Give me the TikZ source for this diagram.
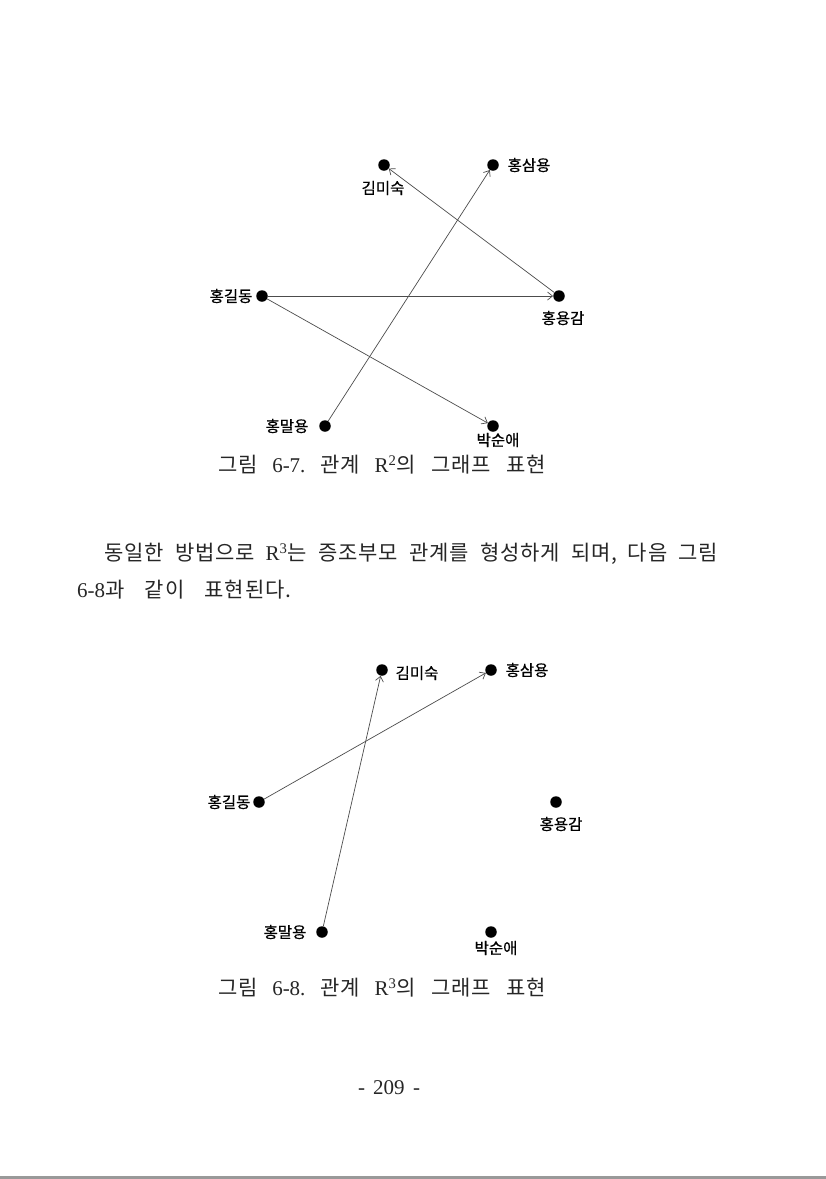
\documentclass[tikz,border=0pt]{standalone}
\usepackage{fontspec}
\setmainfont{Liberation Serif}
\newfontfamily\cjk[LetterSpace=4]{Noto Sans CJK KR}
\newfontfamily\cjkb[FakeBold=0.6]{Noto Sans CJK KR}
\usetikzlibrary{arrows.meta}
\frenchspacing
\begin{document}
\begin{tikzpicture}[x=1pt,y=-1pt,
  dot/.style={circle,fill=black,inner sep=0pt,minimum size=11.5pt},
  lab/.style={font=\cjkb\fontsize{15.5}{18}\selectfont,inner sep=0pt,text=black},
  rel/.style={draw=black!70,line width=0.7pt,-{Straight Barb[length=5pt,width=8pt]}},
  body/.style={font=\fontsize{21}{24}\selectfont\frenchspacing,inner sep=0pt,text=black!85}]
\useasboundingbox (0,0) rectangle (826,1179);
\fill[white] (0,0) rectangle (826,1179);
\fill[black!40] (0,1176) rectangle (826,1179);

% ---------- Figure 6-7 ----------
\node[dot] (a1) at (384,165) {};
\node[dot] (b1) at (493,165) {};
\node[dot] (c1) at (262,296) {};
\node[dot] (d1) at (559,296) {};
\node[dot] (e1) at (325,426) {};
\node[dot] (f1) at (493,426) {};
\node[lab] (la1) at (383,188) {김미숙};
\node[lab] (lb1) at (529,165) {홍삼용};
\node[lab] (lc1) at (231,296) {홍길동};
\node[lab] (ld1) at (563,318) {홍용감};
\node[lab] (le1) at (287,426) {홍말용};
\node[lab] (lf1) at (498,440) {박순애};
\draw[rel] (d1) -- (a1);
\draw[rel] (e1) -- (b1);
\draw[rel] (c1) -- (d1);
\draw[rel] (c1) -- (f1);

\node[body] (cap1) at (382,465) {\makebox[328pt][s]{{\cjk 그림} 6-7. {\cjk 관계} R\textsuperscript{2}{\cjk 의 그래프 표현}}};

\node[body,anchor=west] (par1) at (104,554) {\makebox[614pt][s]{{\cjk 동일한 방법으로} R\textsuperscript{3}{\cjk 는 증조부모 관계를 형성하게 되며,} {\cjk 다음 그림}}};
\node[body,anchor=west] (par2) at (77,590) {\makebox[214pt][s]{6-8{\cjk 과 같이 표현된다.}}};

% ---------- Figure 6-8 ----------
\node[dot] (a2) at (382,670) {};
\node[dot] (b2) at (491,670) {};
\node[dot] (c2) at (259,802) {};
\node[dot] (d2) at (556,802) {};
\node[dot] (e2) at (322,932) {};
\node[dot] (f2) at (491,932) {};
\node[lab] (la2) at (417,673) {김미숙};
\node[lab] (lb2) at (527,670) {홍삼용};
\node[lab] (lc2) at (229,802) {홍길동};
\node[lab] (ld2) at (561,824) {홍용감};
\node[lab] (le2) at (285,932) {홍말용};
\node[lab] (lf2) at (496,948) {박순애};
\draw[rel] (c2) -- (b2);
\draw[rel] (e2) -- (a2);

\node[body] (cap2) at (382,988) {\makebox[328pt][s]{{\cjk 그림} 6-8. {\cjk 관계} R\textsuperscript{3}{\cjk 의 그래프 표현}}};

\node[body] (pg) at (389,1088) {\makebox[62pt][s]{- 209 -}};
\end{tikzpicture}
\end{document}
